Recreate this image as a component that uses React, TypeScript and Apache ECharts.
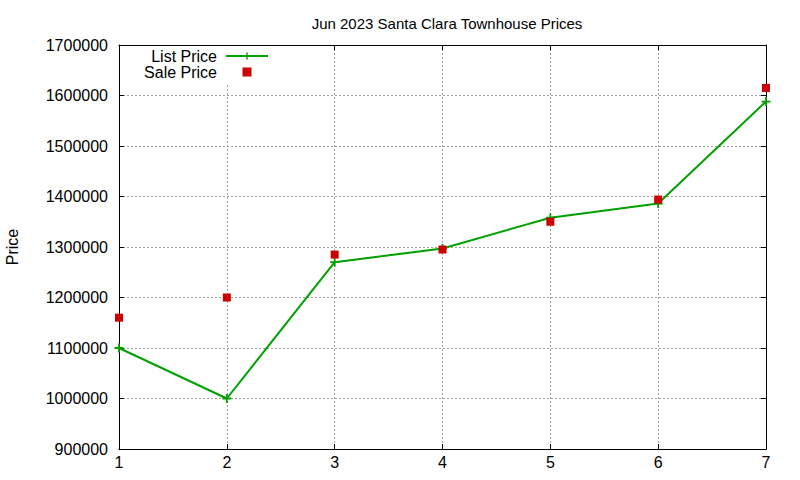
import React, { useEffect, useRef } from "react";
import * as echarts from "echarts";

const xValues = [1, 2, 3, 4, 5, 6, 7];
const listPrice = [1100000, 1000000, 1270000, 1297000, 1358000, 1386000, 1588000];
const salePrice = [1160000, 1200000, 1285000, 1295000, 1350000, 1394000, 1615000];
const titleText = "Jun 2023 Santa Clara Townhouse Prices";
const yName = "Price";

const FONT = "'Liberation Sans', Arial, sans-serif";
const GREEN = "#00a000";
const RED = "#cc0000";
const PLUS = "path://M4,0H6V4H10V6H6V10H4V6H0V4H4Z";
const SQUARE = "path://M0,0H10V10H0Z";

export default function App() {
  const ref = useRef<HTMLDivElement>(null);
  useEffect(() => {
    if (!ref.current) return;
    const chart = echarts.init(ref.current, undefined, { renderer: "svg" });
    const splitLine = {
      show: true,
      lineStyle: { color: "#a0a0a0", width: 1, type: [2, 2] as number[] },
    };
    const axisLine = { show: true, onZero: false, lineStyle: { color: "#000", width: 1 } };
    const axisTick = { show: true, inside: true, length: 5, lineStyle: { color: "#000" } };
    const labelStyle = { color: "#000", fontSize: 16, fontFamily: FONT };
    chart.setOption({
      animation: false,
      backgroundColor: "#fff",
      textStyle: { fontFamily: FONT },
      title: {
        text: titleText,
        left: 442,
        textAlign: "center",
        top: 11,
        textStyle: { fontSize: 15, fontWeight: "normal", color: "#000", fontFamily: FONT },
      },
      grid: {
        left: 119,
        right: 34,
        top: 45,
        bottom: 31,
        containLabel: false,
        outerBoundsMode: "none",
      },
      legend: {
        orient: "vertical",
        align: "right",
        left: 136,
        top: 46,
        padding: [2, 8, 5, 5],
        backgroundColor: "#fff",
        itemWidth: 42,
        itemHeight: 9,
        itemGap: 0,
        selectedMode: false,
        symbolKeepAspect: true,
        textStyle: {
          fontSize: 16,
          color: "#000",
          fontFamily: FONT,
          width: 76,
          align: "right",
          lineHeight: 15,
          padding: [0, 4, 0, 0],
        },
        data: [
          { name: "List Price" },
          { name: "Sale Price", icon: SQUARE, itemStyle: { color: RED, opacity: 1 } },
        ],
      },
      xAxis: [
        {
          type: "value",
          min: 1,
          max: 7,
          interval: 1,
          position: "bottom",
          axisLine,
          axisTick,
          axisLabel: { ...labelStyle, margin: 5 },
          splitLine,
        },
        {
          type: "value",
          min: 1,
          max: 7,
          interval: 1,
          position: "top",
          axisLine,
          axisTick,
          axisLabel: { show: false },
          splitLine: { show: false },
        },
      ],
      yAxis: [
        {
          type: "value",
          min: 900000,
          max: 1700000,
          interval: 100000,
          position: "left",
          name: yName,
          nameLocation: "middle",
          nameGap: 99,
          nameTextStyle: { ...labelStyle },
          axisLine,
          axisTick,
          axisLabel: { ...labelStyle, margin: 11, formatter: (v: number) => String(v) },
          splitLine,
        },
        {
          type: "value",
          min: 900000,
          max: 1700000,
          interval: 100000,
          position: "right",
          axisLine,
          axisTick,
          axisLabel: { show: false },
          splitLine: { show: false },
        },
      ],
      series: [
        {
          name: "List Price",
          type: "line",
          xAxisIndex: 0,
          yAxisIndex: 0,
          data: xValues.map((x, i) => [x, listPrice[i]]),
          symbol: PLUS,
          symbolSize: 9,
          showAllSymbol: true,
          lineStyle: { color: GREEN, width: 2 },
          itemStyle: { color: GREEN, opacity: 1 },
          clip: false,
          z: 3,
        },
        {
          name: "Sale Price",
          type: "scatter",
          xAxisIndex: 0,
          yAxisIndex: 0,
          data: xValues.map((x, i) => [x, salePrice[i]]),
          symbol: "rect",
          symbolSize: 8,
          itemStyle: { color: RED, opacity: 1 },
          clip: false,
          z: 4,
        },
      ],
    });
    return () => chart.dispose();
  }, []);
  return <div ref={ref} style={{ width: 800, height: 480, position: "absolute", left: 0, top: 0 }} />;
}
